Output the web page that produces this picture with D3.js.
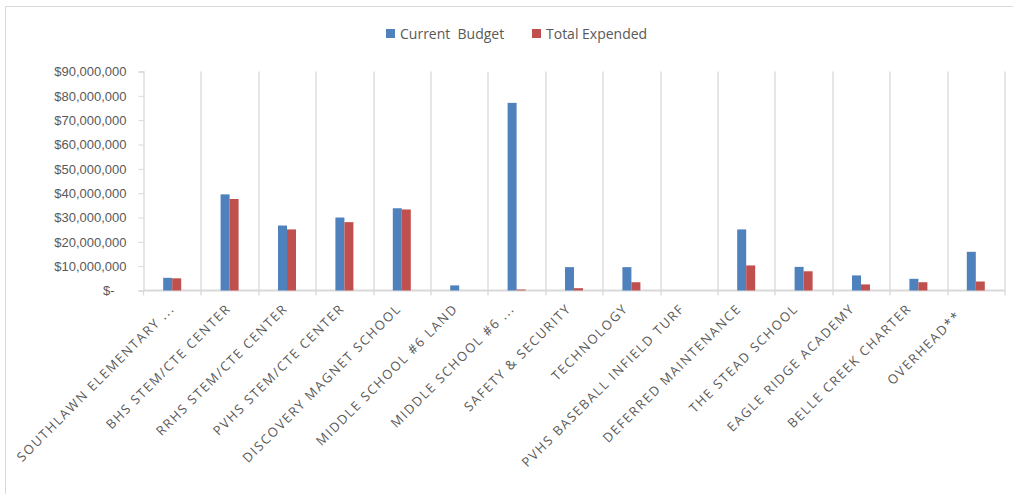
<!DOCTYPE html>
<html>
<head>
<meta charset="utf-8">
<script src="https://cdn.jsdelivr.net/npm/d3@7"></script>
<style>
  body { margin: 0; background: #fff; }
  svg { display: block; font-family: "Open Sans", "Liberation Sans", sans-serif; }
</style>
</head>
<body>
<svg id="chart" width="1013" height="494"></svg>
<script>
// project names along the x axis
var projects = [
  "SOUTHLAWN ELEMENTARY ...", "BHS STEM/CTE CENTER", "RRHS STEM/CTE CENTER",
  "PVHS STEM/CTE CENTER", "DISCOVERY MAGNET SCHOOL", "MIDDLE SCHOOL #6 LAND",
  "MIDDLE SCHOOL #6 ...", "SAFETY & SECURITY", "TECHNOLOGY",
  "PVHS BASEBALL INFIELD TURF", "DEFERRED MAINTENANCE", "THE STEAD SCHOOL",
  "EAGLE RIDGE ACADEMY", "BELLE CREEK CHARTER", "OVERHEAD**  "
];
var currentBudget = [5200000, 39500000, 26700000, 30000000, 33800000, 2100000, 77100000,
  9600000, 9600000, 0, 25100000, 9700000, 6200000, 4800000, 15900000];
var totalExpended = [5000000, 37600000, 25100000, 28100000, 33300000, 0, 400000,
  950000, 3400000, 0, 10300000, 7900000, 2500000, 3400000, 3700000];
var seriesNames = ["Current  Budget", "Total Expended"];
var seriesColors = ["#4f81bd", "#c0504d"];
var yTicks = [0, 10000000, 20000000, 30000000, 40000000, 50000000, 60000000, 70000000, 80000000, 90000000];

var svg = d3.select("#chart");
var margin = {top: 71.5, left: 143.5, right: 8, bottom: 203.5};
var width = 1004.5 - margin.left;
var height = 290.5 - margin.top;

// outer frame
svg.append("rect")
  .attr("x", 5.5).attr("y", 6.5)
  .attr("width", 1020).attr("height", 500)
  .attr("fill", "none").attr("stroke", "#d9d9d9");

var g = svg.append("g").attr("transform", "translate(" + margin.left + "," + margin.top + ")");

var x = d3.scaleBand().domain(projects).range([0, width]);
var y = d3.scaleLinear().domain([0, 90000000]).range([height, 0]);
var barW = 9;

// vertical gridlines at category boundaries
var bounds = projects.map(function(p) { return x(p); }).concat([width]);
g.selectAll(".vgrid").data(bounds.slice(1)).enter().append("line")
  .attr("class", "vgrid")
  .attr("x1", function(d) { return Math.round(d) + 0.5; })
  .attr("x2", function(d) { return Math.round(d) + 0.5; })
  .attr("y1", 0).attr("y2", height + 5)
  .attr("stroke", "#d9d9d9").attr("stroke-width", 1.3);

// y axis
var yAxis = d3.axisLeft(y).tickValues(yTicks).tickSize(5).tickPadding(12)
  .tickFormat(function(d) { return d === 0 ? "$-" : "$" + d3.format(",")(d); });
var ya = g.append("g").call(yAxis);
ya.select(".domain").attr("stroke", "#d9d9d9").attr("stroke-width", 1.3);
ya.selectAll(".tick line").attr("stroke", "#d9d9d9");
ya.selectAll(".tick text").attr("fill", "#595959").style("font-size", "13px")
  .attr("dx", function(d) { return d === 0 ? -12 : 0; });

// x axis baseline + boundary ticks
g.append("line").attr("x1", 0).attr("x2", width).attr("y1", height).attr("y2", height)
  .attr("stroke", "#d9d9d9").attr("stroke-width", 2);
g.append("line").attr("x1", 0).attr("x2", 0).attr("y1", height).attr("y2", height + 5)
  .attr("stroke", "#d9d9d9").attr("stroke-width", 1.3);

// bars
var series = [currentBudget, totalExpended];
series.forEach(function(vals, si) {
  g.selectAll(".bar" + si).data(projects).enter().append("rect")
    .attr("class", "bar" + si)
    .attr("x", function(d) { return x(d) + x.bandwidth() / 2 - barW + si * barW; })
    .attr("y", function(d, i) { return y(vals[i]); })
    .attr("width", barW)
    .attr("height", function(d, i) { return height - y(vals[i]); })
    .attr("fill", seriesColors[si]);
});

// rotated category labels
g.selectAll(".xlab").data(projects).enter().append("text")
  .attr("class", "xlab")
  .attr("transform", function(d, i) {
    var lx = x(d) + x.bandwidth() / 2 + 3 - 0.7 * i;
    return "translate(" + lx + "," + (height + 19) + ") rotate(-45)";
  })
  .attr("text-anchor", "end")
  .attr("fill", "#595959")
  .style("font-size", "13px")
  .style("letter-spacing", "1.6px")
  .style("white-space", "pre")
  .text(function(d) { return d; });

// legend
var legend = svg.append("g");
var legendX = [386, 532];
seriesNames.forEach(function(name, i) {
  legend.append("rect").attr("x", legendX[i]).attr("y", 29).attr("width", 9).attr("height", 9)
    .attr("fill", seriesColors[i]);
  legend.append("text").attr("x", legendX[i] + 14).attr("y", 38.5)
    .attr("fill", "#595959").style("font-size", "14px").style("white-space", "pre")
    .text(name);
});
</script>
</body>
</html>
